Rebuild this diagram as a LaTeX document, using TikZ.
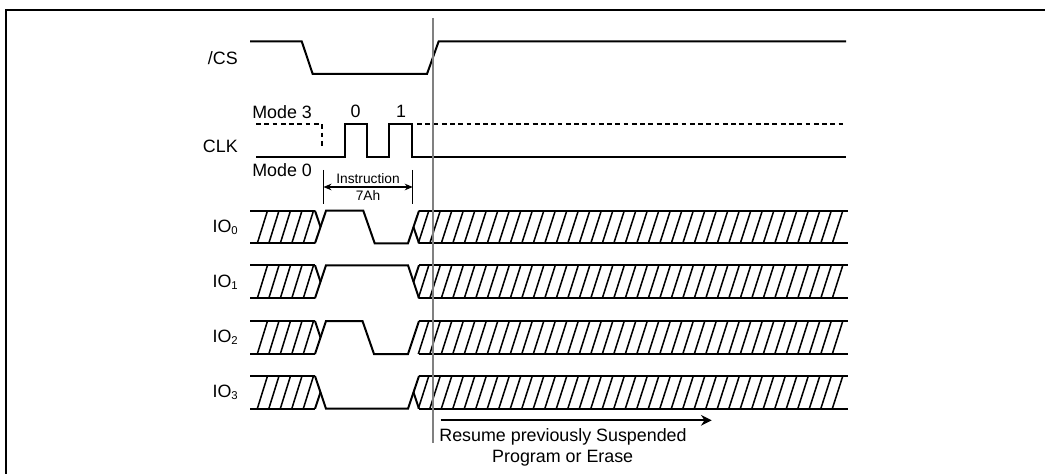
\documentclass[tikz,border=0pt]{standalone}
\usepackage{fontspec}
\setmainfont{Liberation Sans}
\usetikzlibrary{arrows.meta, positioning, calc}
\definecolor{cgray}{HTML}{808080}
\tikzset{
  wave/.style={black, line width=1.5pt},
  hatchline/.style={black, line width=1.15pt},
  siglabel/.style={font=\fontsize{13.4}{15}\selectfont, inner sep=0pt, anchor=east},
  smalllabel/.style={font=\fontsize{10.3}{12}\selectfont, inner sep=0pt}
}
\begin{document}
\begin{tikzpicture}[x=0.75pt, y=-0.75pt]
  \useasboundingbox (0,0) rectangle (1045,474);

  % Outer frame, only left and top
  \draw[black, line width=1.7pt] (6.2,474) -- (6.2,10) -- (1045,10);

  % Chip select
  \node[siglabel] (cslabel) at (238,58) {/CS};
  \draw[wave] (250,41.3) -- (301.7,41.3) -- (312.7,74) -- (427,74) -- (438.7,41.3) -- (846,41.3);

  % Clock
  \node[siglabel] (clklabel) at (238,146) {CLK};
  \node[siglabel, anchor=west] (modethree) at (252,112) {Mode 3};
  \node[siglabel, anchor=west] (modezero) at (252,170) {Mode 0};
  \node[siglabel, anchor=center] (clkzero) at (355.7,111) {0};
  \node[siglabel, anchor=center] (clkone) at (401,111) {1};
  \draw[wave] (256,156.7) -- (344.5,156.7) -- (344.5,124.3) -- (367,124.3) -- (367,156.7)
    -- (389.3,156.7) -- (389.3,124.3) -- (412.3,124.3) -- (412.3,156.7) -- (846,156.7);
  \draw[wave, dash pattern=on 3.6pt off 2.6pt] (256,124.3) -- (322,124.3) -- (322,149);
  \draw[wave, dash pattern=on 3.6pt off 2.6pt] (417,124.3) -- (846,124.3);

  % Instruction span
  \coordinate (spanleft) at (323.5,187);
  \coordinate (spanright) at (412.7,187);
  \draw[black, line width=0.6pt] (323.5,170) -- (323.5,204);
  \draw[black, line width=0.6pt] (412.7,170) -- (412.7,204);
  \draw[{Stealth[length=6pt,width=5pt]}-{Stealth[length=6pt,width=5pt]}, black, line width=0.8pt] (spanleft) -- (spanright);
  \node[smalllabel] (spantop) at (368,179) {Instruction};
  \node[smalllabel] (spanbot) at (368,195.5) {7Ah};

  % Data lines: top row, bottom row, label
  \foreach \n/\t/\b in {0/210.7/243.3, 1/265.3/298.3, 2/321/354, 3/376/408.7}{
    \pgfmathsetmacro{\m}{(\t+\b)/2}
    \node[siglabel] (iolabel\n) at (238,\m) {IO\raisebox{-1.5pt}{\fontsize{8.5}{10}\selectfont\n}};
    \draw[wave] (250,\t) -- (315,\t);
    \draw[wave] (250,\b) -- (315,\b);
    \draw[wave] (419,\t) -- (848,\t);
    \draw[wave] (419,\b) -- (848,\b);
    % left hatching
    \foreach \k in {0,...,4}{
      \draw[hatchline] ({257.3+\k*11.5},\b) -- ({267.5+\k*11.5},\t);
    }
    % right hatching
    \foreach \k in {0,...,36}{
      \draw[hatchline] ({832.3-\k*11.5},\b) -- ({842.8-\k*11.5},\t);
    }
  }

  % IO0 levels
  \draw[wave] (315,243.3) -- (326,210.7) -- (363.3,210.7) -- (374.7,243.3) -- (408,243.3) -- (419,210.7);
  \draw[wave] (315,210.7) -- (320.5,227);
  \draw[wave] (413.5,227) -- (419,243.3);

  % IO1 levels
  \draw[wave] (315,298.3) -- (326,265.3) -- (408,265.3) -- (419,298.3);
  \draw[wave] (315,265.3) -- (320.5,281.8);
  \draw[wave] (413.5,281.8) -- (419,265.3);

  % IO2 levels
  \draw[wave] (315,354) -- (326,321) -- (362.5,321) -- (374,354) -- (408,354) -- (419,321);
  \draw[wave] (315,321) -- (320.5,337.5);

  % IO3 levels
  \draw[wave] (315,376) -- (326,408.7) -- (408,408.7) -- (419,376);
  \draw[wave] (315,408.7) -- (320.5,392.3);
  \draw[wave] (413.5,392.3) -- (419,408.7);

  % Marker line
  \draw[cgray, line width=1.4pt] (433.3,18) -- (433.3,443);

  % Resume note
  \coordinate (resumestart) at (440.7,420.3);
  \coordinate (resumeend) at (711.7,420.3);
  \draw[-{Stealth[length=8pt,width=8pt]}, black, line width=1.5pt] (resumestart) -- (resumeend);
  \node[siglabel, anchor=center] (resumeone) at (563,437) {Resume previously Suspended};
  \node[siglabel, anchor=center] (resumetwo) at (562.7,458) {Program or Erase};
\end{tikzpicture}
\end{document}
